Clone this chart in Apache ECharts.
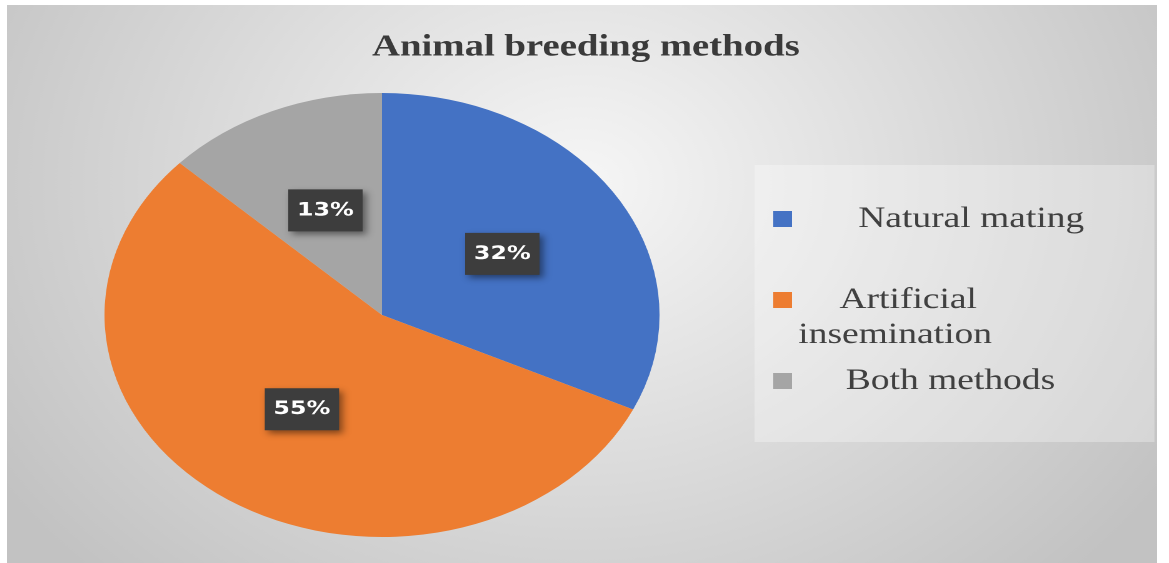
<!DOCTYPE html>
<html>
<head>
<meta charset="utf-8">
<title>Animal breeding methods</title>
<script src="https://cdn.jsdelivr.net/npm/echarts@6/dist/echarts.min.js"></script>
<style>
  html, body { margin: 0; padding: 0; background: #fff; }
  body { width: 1169px; height: 563px; overflow: hidden; position: relative; }
  /* the original picture is stretched sideways, so the chart is drawn narrow and scaled */
  #chartPie {
    position: absolute;
    left: 7px;
    top: 5px;
    width: 920px;
    height: 558px;
    transform: scaleX(1.25);
    transform-origin: 0 0;
  }
</style>
</head>
<body>
<div id="chartPie"></div>
<script>
  var methodNames = ['Natural mating', 'Artificial insemination', 'Both methods'];
  var methodShares = [32, 55, 13];
  var methodColors = ['#4472c4', '#ed7d31', '#a5a5a5'];

  var pieData = methodNames.map(function (name, i) {
    return { name: name, value: methodShares[i], itemStyle: { color: methodColors[i] } };
  });

  // legend text, with the leading gaps of the original
  var legendRich = {
    e: { fontFamily: 'Liberation Serif', fontSize: 30, lineHeight: 35, color: '#404040' },
    n: { fontFamily: 'Liberation Serif', fontSize: 30, lineHeight: 35, color: '#404040', padding: [0, 0, 0, 48] },
    a: { fontFamily: 'Liberation Serif', fontSize: 30, lineHeight: 35, color: '#404040', padding: [0, 0, 0, 33] },
    i: { fontFamily: 'Liberation Serif', fontSize: 30, lineHeight: 35, color: '#404040' },
    b: { fontFamily: 'Liberation Serif', fontSize: 30, lineHeight: 35, color: '#404040', padding: [0, 0, 0, 38] }
  };

  var chartPie = echarts.init(document.getElementById('chartPie'), null, { devicePixelRatio: 2 });
  chartPie.setOption({
    animation: false,
    backgroundColor: new echarts.graphic.RadialGradient(0.5, 0.32, 1.0, [
      { offset: 0, color: '#f6f6f6' },
      { offset: 1, color: '#c2c2c2' }
    ]),
    title: {
      text: 'Animal breeding methods',
      left: 292,
      top: 27,
      padding: 0,
      textStyle: {
        color: '#3a3a3a',
        fontFamily: 'Liberation Serif',
        fontWeight: 'bold',
        fontSize: 31
      }
    },
    graphic: [
      {
        type: 'rect',
        z: 0,
        shape: { x: 598, y: 160, width: 320, height: 277 },
        style: { fill: 'rgba(255,255,255,0.3)' }
      }
    ],
    legend: {
      orient: 'vertical',
      left: 613,
      top: 199,
      padding: 0,
      itemGap: 16,
      itemWidth: 15,
      itemHeight: 16,
      icon: 'rect',
      selectedMode: false,
      data: methodNames,
      textStyle: { fontFamily: 'Liberation Serif', fontSize: 30, color: '#404040', rich: legendRich },
      formatter: function (name) {
        if (name === 'Natural mating') return '{n|Natural mating}';
        if (name === 'Artificial insemination') return '{e| }\n{a|Artificial}\n{i|insemination}';
        return '{b|Both methods}';
      }
    },
    series: [
      {
        name: 'Animal breeding methods',
        type: 'pie',
        radius: 222,
        center: [300, 310],
        startAngle: 90,
        clockwise: true,
        data: pieData,
        emphasis: { disabled: true },
        labelLine: { show: false },
        label: {
          show: true,
          position: 'inside',
          formatter: '{c}%',
          color: '#fff',
          fontFamily: 'DejaVu Sans',
          fontWeight: 'bold',
          fontSize: 19,
          lineHeight: 23,
          backgroundColor: '#3d3d3d',
          padding: [10, 7, 9, 7],
          shadowBlur: 6,
          shadowColor: 'rgba(0,0,0,0.45)',
          shadowOffsetX: 3,
          shadowOffsetY: 3
        }
      }
    ]
  });
</script>
</body>
</html>
